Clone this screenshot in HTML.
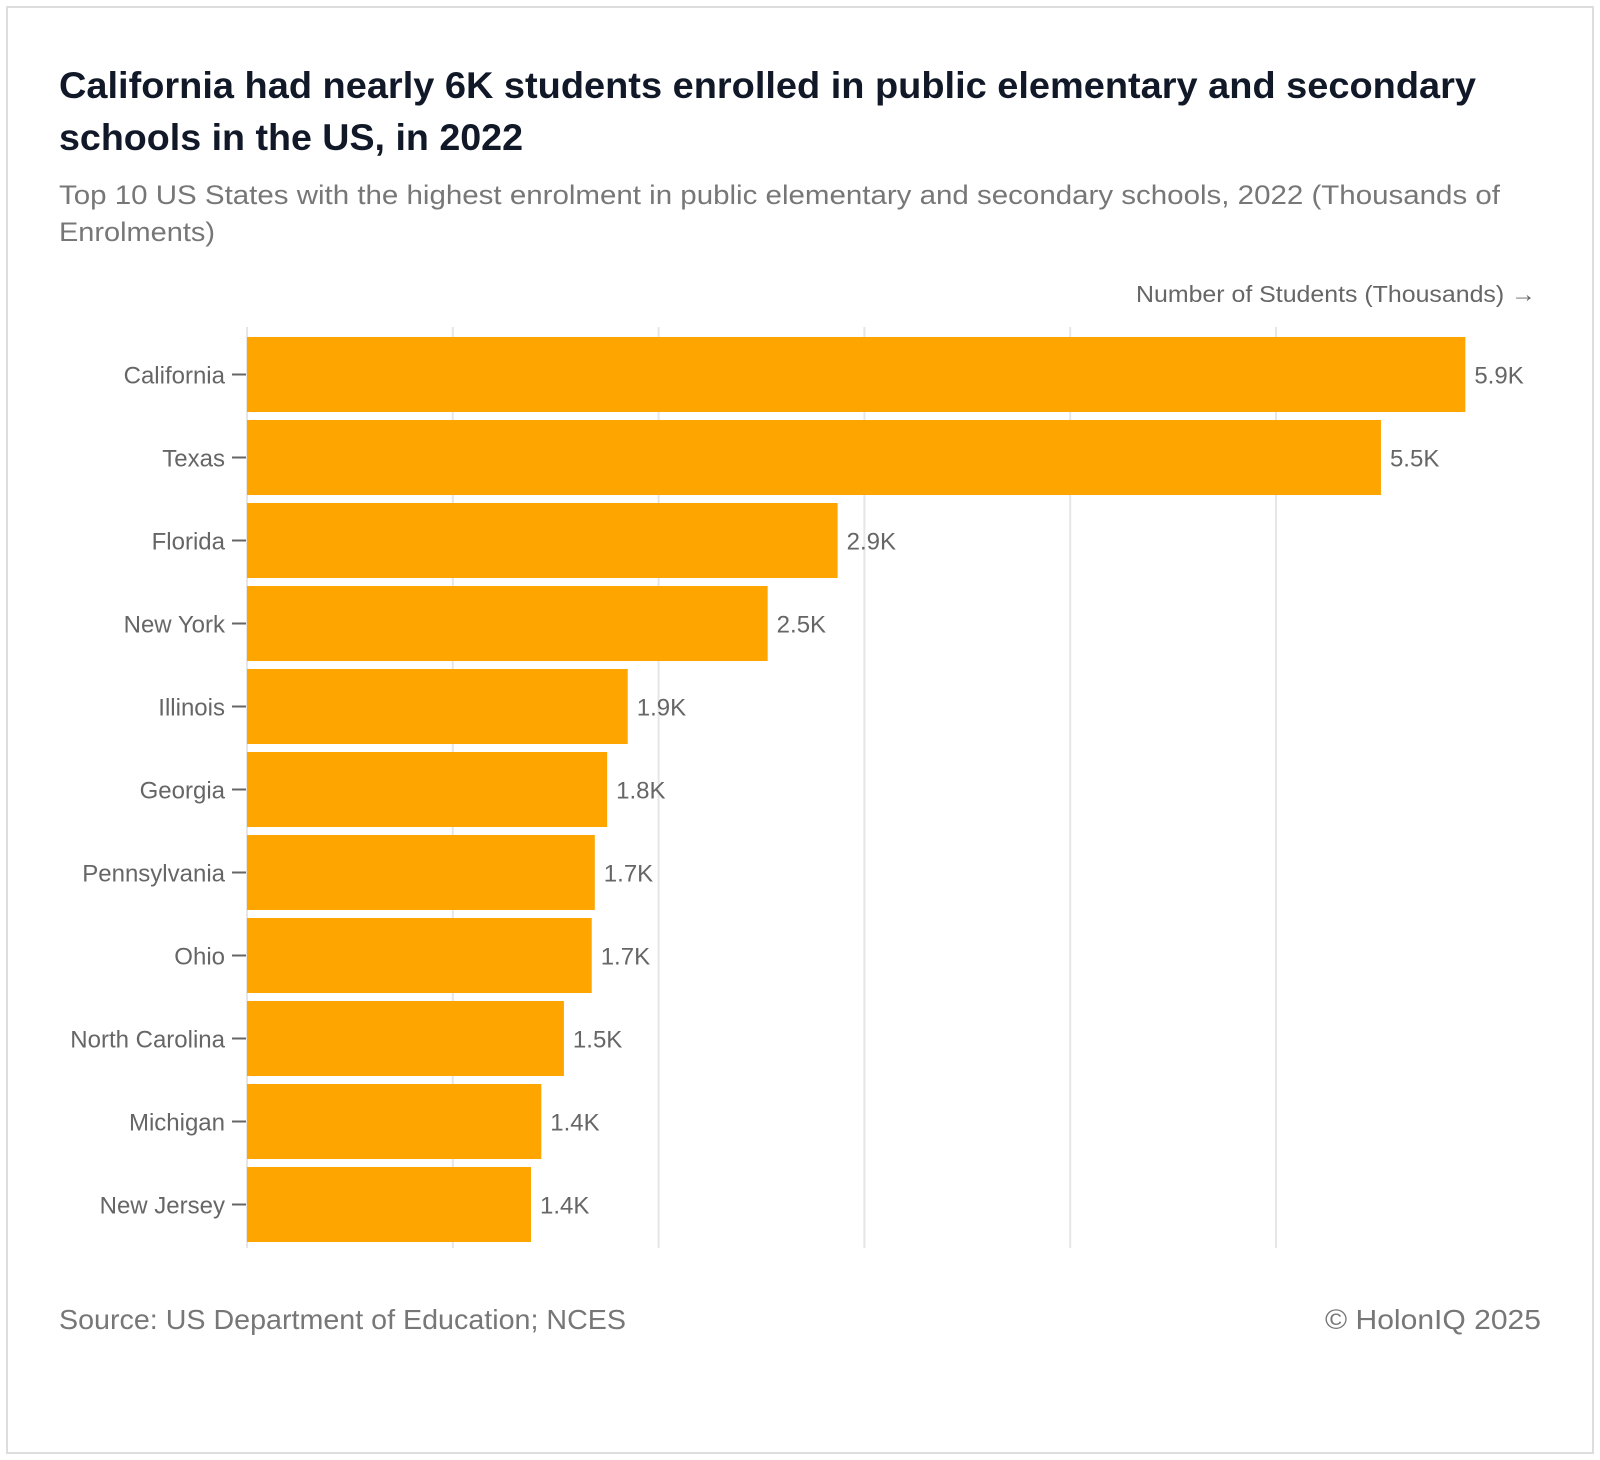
<!DOCTYPE html>
<html><head><meta charset="utf-8"><style>
html,body{margin:0;padding:0;background:#fff;}
svg{display:block;}
text{font-family:"Liberation Sans",sans-serif;}
</style></head><body>
<svg width="1600" height="1460" viewBox="0 0 1600 1460">
<rect x="7" y="7" width="1586" height="1446" fill="#fff" stroke="#ddd" stroke-width="2"/>
<text x="59" y="98" font-size="37" font-weight="bold" fill="#111827" textLength="1417" lengthAdjust="spacingAndGlyphs">California had nearly 6K students enrolled in public elementary and secondary</text>
<text x="59" y="150" font-size="37" font-weight="bold" fill="#111827" textLength="464" lengthAdjust="spacingAndGlyphs">schools in the US, in 2022</text>
<text x="59" y="204" font-size="27" fill="#777" textLength="1441" lengthAdjust="spacingAndGlyphs">Top 10 US States with the highest enrolment in public elementary and secondary schools, 2022 (Thousands of</text>
<text x="59" y="241" font-size="27" fill="#777" textLength="156" lengthAdjust="spacingAndGlyphs">Enrolments)</text>
<text x="1136" y="302" font-size="23" fill="#666" textLength="400" lengthAdjust="spacingAndGlyphs">Number of Students (Thousands) →</text>
<g id="plot"></g>
<text x="59" y="1329" font-size="28" fill="#777" textLength="567" lengthAdjust="spacingAndGlyphs">Source: US Department of Education; NCES</text>
<text x="1541" y="1329" font-size="28" fill="#777" text-anchor="end" textLength="216" lengthAdjust="spacingAndGlyphs">© HolonIQ 2025</text>
</svg>
<script>
const categories = ["California","Texas","Florida","New York","Illinois","Georgia","Pennsylvania","Ohio","North Carolina","Michigan","New Jersey"];
const values = [5.92,5.51,2.87,2.53,1.85,1.75,1.69,1.675,1.54,1.43,1.38];
const valueLabels = ["5.9K","5.5K","2.9K","2.5K","1.9K","1.8K","1.7K","1.7K","1.5K","1.4K","1.4K"];
const gridTicks = [0,1,2,3,4,5];

const NS = "http://www.w3.org/2000/svg";
const plotG = document.getElementById('plot');
const x0 = 247, pxPer = 205.8, plotTop = 337, pitch = 83, barH = 75;
const xScale = v => x0 + v * pxPer;
const yScale = i => plotTop + i * pitch;
function mk(tag, attrs){ const e = document.createElementNS(NS, tag); for (const k in attrs) e.setAttribute(k, attrs[k]); plotG.appendChild(e); return e; }

gridTicks.forEach((t) => {
  const l = mk('line', {x1: xScale(t), x2: xScale(t), y1: 327, y2: 1248, stroke: '#e6e6e6', 'stroke-width': 2});
  
  
});
categories.forEach((c, i) => {
  const y = yScale(i);
  const r = mk('rect', {x: x0, y: y, width: xScale(values[i]) - x0, height: barH, fill: '#FFA500'});
  
  
  const tk = mk('line', {x1: x0 - 15, x2: x0 - 1, y1: y + barH / 2, y2: y + barH / 2, stroke: '#666', 'stroke-width': 2});
  
  
  const lb = mk('text', {x: x0 - 22, y: y + barH / 2 + 9, 'font-size': 24, fill: '#666', 'text-anchor': 'end'});
  lb.textContent = c;
  
  
  const vl = mk('text', {x: xScale(values[i]) + 9, y: y + barH / 2 + 9, 'font-size': 24, fill: '#666'});
  vl.textContent = valueLabels[i];
  
  
});
</script>
</body></html>
